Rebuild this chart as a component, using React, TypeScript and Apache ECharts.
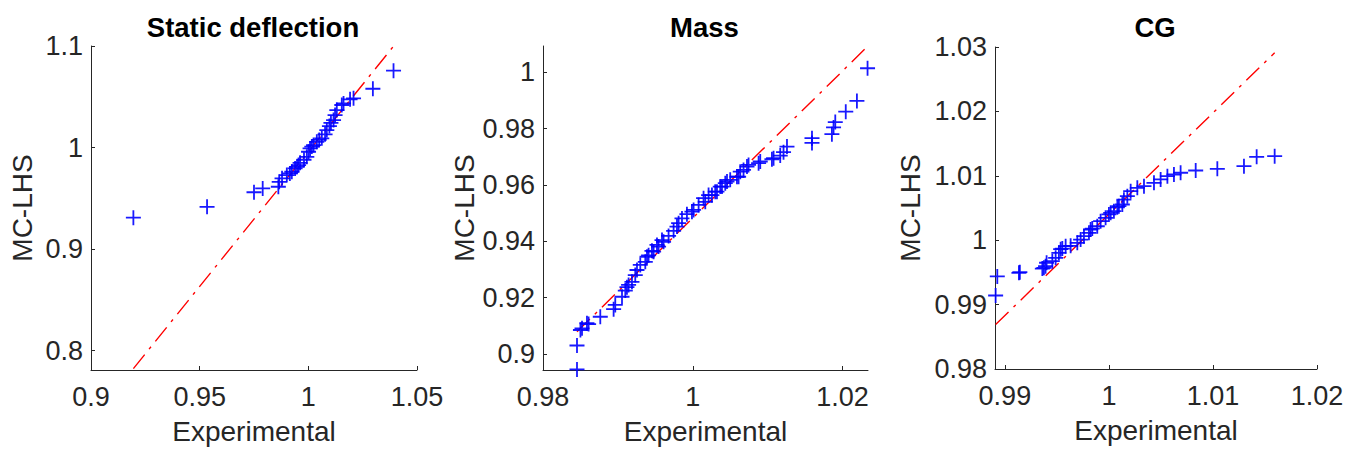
import React, { useEffect, useRef } from "react";
import * as echarts from "echarts";

const FONT = "'Liberation Sans', Arial, Helvetica, sans-serif";

// ---------- Panel titles and axis names ----------
const titles = ["Static deflection", "Mass", "CG"];
const xName = "Experimental";
const yName = "MC-LHS";

// ---------- Tick values ----------
const xTicks1 = [0.9, 0.95, 1, 1.05];
const yTicks1 = [0.8, 0.9, 1, 1.1];
const xTicks2 = [0.98, 1, 1.02];
const yTicks2 = [0.9, 0.92, 0.94, 0.96, 0.98, 1];
const xTicks3 = [0.99, 1, 1.01, 1.02];
const yTicks3 = [0.98, 0.99, 1, 1.01, 1.02, 1.03];

// ---------- Axis limits ----------
const xLim1 = [0.9, 1.05];
const yLim1 = [0.781, 1.1];
const xLim2 = [0.98, 1.0234];
const yLim2 = [0.8943, 1.0093];
const xLim3 = [0.98905, 1.02];
const yLim3 = [0.98, 1.03];

// ---------- Static deflection: experimental vs MC-LHS quantiles ----------
const sdX = [
  0.9195, 0.9534, 0.975, 0.979, 0.9862, 0.9866, 0.9879, 0.9901, 0.9915, 0.9924,
  0.9939, 0.9948, 0.9955, 0.9962, 0.998, 0.9993, 1.0001, 1.0008, 1.0016, 1.0024,
  1.0039, 1.005, 1.0062, 1.0077, 1.0085, 1.0097, 1.0104, 1.0116, 1.0123, 1.0131,
  1.0154, 1.0162, 1.0192, 1.0208, 1.0297, 1.0392,
];
const sdY = [
  0.931, 0.9417, 0.956, 0.9598, 0.9614, 0.9663, 0.9697, 0.9729, 0.9745, 0.9762,
  0.9795, 0.981, 0.9828, 0.985, 0.988, 0.9909, 0.9959, 0.9992, 1.001, 1.0025,
  1.0057, 1.0075, 1.0091, 1.013, 1.0172, 1.0212, 1.0244, 1.0271, 1.032, 1.0369,
  1.0419, 1.0435, 1.0475, 1.0485, 1.0579, 1.0757,
];
const sdRefX = [0.9195, 1.0392];
const sdRefY = [0.7824, 1.0998];

// ---------- Mass ----------
const massX = [
  0.98454, 0.98454, 0.985, 0.98521, 0.98587, 0.98609, 0.98765, 0.98943, 0.98965, 0.99055,
  0.99099, 0.99121, 0.99143, 0.99188, 0.99232, 0.99255, 0.99299, 0.99366, 0.99389, 0.9941,
  0.99455, 0.99477, 0.99522, 0.99543, 0.99589, 0.9961, 0.99677, 0.99744, 0.99789, 0.99811,
  0.99856, 0.99922, 0.99989, 1.00011, 1.00078, 1.00144, 1.00167, 1.00211, 1.00256, 1.003,
  1.00323, 1.00367, 1.0039, 1.00434, 1.00457, 1.005, 1.0059, 1.00612, 1.00634, 1.00678,
  1.00724, 1.00745, 1.00879, 1.00901, 1.01057, 1.01079, 1.01168, 1.01212, 1.01258, 1.01592,
  1.01592, 1.01858, 1.0188, 1.01903, 1.02043, 1.02192, 1.02334,
];
const massY = [
  0.8945, 0.903, 0.9085, 0.9091, 0.9109, 0.9106, 0.9132, 0.9159, 0.9174, 0.9203,
  0.9225, 0.9237, 0.9245, 0.9256, 0.928, 0.9298, 0.9316, 0.9327, 0.9345, 0.935,
  0.9366, 0.9363, 0.9387, 0.9381, 0.9404, 0.9398, 0.9419, 0.9437, 0.9452, 0.9464,
  0.9481, 0.9496, 0.9505, 0.9511, 0.9529, 0.9553, 0.954, 0.9564, 0.9564, 0.9576,
  0.9576, 0.9594, 0.9594, 0.9606, 0.9612, 0.9618, 0.9629, 0.9629, 0.9647, 0.9653,
  0.9665, 0.9671, 0.9677, 0.9683, 0.9691, 0.9695, 0.9704, 0.9716, 0.9736, 0.9749,
  0.9766, 0.978, 0.9804, 0.9823, 0.986, 0.9898, 1.0014,
];
const massRefX = [0.98454, 1.0234];
const massRefY = [0.9079, 1.0093];

// ---------- CG ----------
const cgX = [
  0.98911, 0.98927, 0.99135, 0.99144, 0.9936, 0.99375, 0.99391, 0.99401, 0.99456, 0.99488,
  0.99519, 0.99536, 0.99552, 0.99584, 0.99632, 0.99696, 0.99728, 0.9976, 0.99808, 0.99824,
  0.9984, 0.99888, 0.9992, 0.99968, 1.0, 1.00017, 1.00048, 1.00081, 1.00096, 1.00129,
  1.00144, 1.00177, 1.00209, 1.00273, 1.00337, 1.00433, 1.00497, 1.00562, 1.00625, 1.00689,
  1.00834, 1.01042, 1.01298, 1.0142, 1.01593,
];
const cgY = [
  0.99141, 0.99437, 0.99494, 0.99503, 0.9956, 0.99571, 0.99596, 0.9965, 0.99674, 0.99727,
  0.99804, 0.9986, 0.9987, 0.99907, 0.99912, 0.9996, 1.0001, 1.00062, 1.00115, 1.00166,
  1.0018, 1.00217, 1.00295, 1.00348, 1.004, 1.00425, 1.0045, 1.0051, 1.00528, 1.00554,
  1.0063, 1.00683, 1.00761, 1.00814, 1.00839, 1.00891, 1.00943, 1.00994, 1.0102, 1.01047,
  1.01082, 1.01109, 1.0115, 1.01295, 1.01304,
];
const cgRefX = [0.98911, 1.01593];
const cgRefY = [0.9869, 1.0291];

// ---------- Layout ----------
const grids = [
  { left: 91, top: 46, width: 326, height: 324 },
  { left: 543, top: 46, width: 325, height: 324 },
  { left: 995, top: 47, width: 322, height: 322 },
];
const yNameGaps = [55, 53, 71];

const AXIS_COLOR = "#262626";
const PLUS = "path://M6.6,0H8.4V6.6H15V8.4H8.4V15H6.6V8.4H0V6.6H6.6Z";

const zip = (a: number[], b: number[]) => a.map((v, i) => [v, b[i]]);

export default function App() {
  const ref = useRef<HTMLDivElement>(null);

  useEffect(() => {
    if (!ref.current) return;
    const chart = echarts.init(ref.current, null, { renderer: "svg" });

    const panels = [
      { xl: xLim1, yl: yLim1, xt: xTicks1, yt: yTicks1, pts: zip(sdX, sdY), line: zip(sdRefX, sdRefY) },
      { xl: xLim2, yl: yLim2, xt: xTicks2, yt: yTicks2, pts: zip(massX, massY), line: zip(massRefX, massRefY) },
      { xl: xLim3, yl: yLim3, xt: xTicks3, yt: yTicks3, pts: zip(cgX, cgY), line: zip(cgRefX, cgRefY) },
    ];

    const axisCommon = {
      type: "value" as const,
      splitLine: { show: false },
      axisLine: { show: true, onZero: false, lineStyle: { color: AXIS_COLOR, width: 1 } },
      axisTick: { show: true, inside: true, length: 4, lineStyle: { color: AXIS_COLOR } },
      nameTextStyle: { fontFamily: FONT, fontSize: 28, color: AXIS_COLOR },
    };

    const option: any = {
      animation: false,
      backgroundColor: "#ffffff",
      title: titles.map((t, i) => ({
        text: t,
        left: grids[i].left + grids[i].width / 2 - 6,
        top: 8,
        textAlign: "center",
        textStyle: { fontFamily: FONT, fontSize: 27.5, fontWeight: "bold", color: "#000" },
      })),
      grid: grids.map((g) => ({ ...g, containLabel: false })),
      xAxis: panels.map((p, i) => ({
        ...axisCommon,
        gridIndex: i,
        min: p.xl[0],
        max: p.xl[1],
        name: xName,
        nameLocation: "middle",
        nameGap: 47,
        axisTick: { ...axisCommon.axisTick, customValues: p.xt },
        axisLabel: {
          customValues: p.xt,
          fontFamily: FONT,
          fontSize: 27,
          color: AXIS_COLOR,
          margin: 13,
          formatter: (v: number) => String(+v.toFixed(4)),
        },
      })),
      yAxis: panels.map((p, i) => ({
        ...axisCommon,
        gridIndex: i,
        min: p.yl[0],
        max: p.yl[1],
        name: yName,
        nameLocation: "middle",
        nameGap: yNameGaps[i],
        axisTick: { ...axisCommon.axisTick, customValues: p.yt },
        axisLabel: {
          customValues: p.yt,
          fontFamily: FONT,
          fontSize: 27,
          color: AXIS_COLOR,
          margin: 8,
          formatter: (v: number) => String(+v.toFixed(4)),
        },
      })),
      series: panels.flatMap((p, i) => [
        {
          type: "line",
          xAxisIndex: i,
          yAxisIndex: i,
          data: p.line,
          symbol: "none",
          silent: true,
          lineStyle: { color: "#ff0000", width: 1.4, type: [18, 7, 3, 7] },
          z: 1,
        },
        {
          type: "scatter",
          xAxisIndex: i,
          yAxisIndex: i,
          data: p.pts,
          symbol: PLUS,
          symbolSize: 15,
          clip: false,
          itemStyle: { color: "#0000ff", opacity: 0.9 },
          z: 2,
        },
      ]),
    };

    chart.setOption(option);
    return () => chart.dispose();
  }, []);

  return (
    <div
      ref={ref}
      style={{ position: "fixed", left: 0, top: 0, width: 1356, height: 452, background: "#fff" }}
    />
  );
}
